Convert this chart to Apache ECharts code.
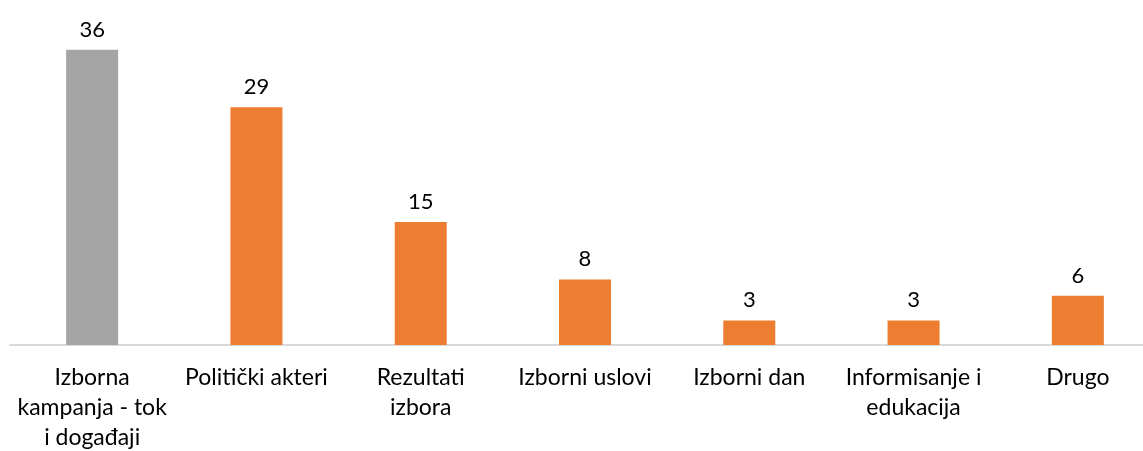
<!DOCTYPE html>
<html>
<head>
<meta charset="utf-8">
<script src="https://cdn.jsdelivr.net/npm/echarts@6/dist/echarts.min.js"></script>
<style>
html,body{margin:0;padding:0;background:#fff;overflow:hidden;}
#c{width:1143px;height:451px;}
</style>
</head>
<body>
<div id="c"></div>
<script>
const categories = ["Izborna\nkampanja - tok\ni događaji", "Politički akteri", "Rezultati\nizbora", "Izborni uslovi", "Izborni dan", "Informisanje i\nedukacija", "Drugo"];
const values = [36, 29, 15, 8, 3, 3, 6];
const barColors = ["#a5a5a5", "#ed7d31", "#ed7d31", "#ed7d31", "#ed7d31", "#ed7d31", "#ed7d31"];

const chart = echarts.init(document.getElementById('c'), null, {renderer: 'canvas', width: 1143, height: 451});
chart.setOption({
  animation: false,
  backgroundColor: '#ffffff',
  grid: {left: 10, width: 1150, top: 17, bottom: 106, containLabel: false, outerBoundsMode: 'none'},
  xAxis: {
    type: 'category',
    data: categories,
    axisLine: {show: true, lineStyle: {color: '#d9d9d9', width: 2}},
    axisTick: {show: false},
    axisLabel: {
      interval: 0,
      color: '#000000',
      fontFamily: 'Lato',
      fontSize: 23,
      lineHeight: 30,
      margin: 18
    }
  },
  yAxis: {
    type: 'value',
    min: 0,
    max: 40,
    show: false,
    splitLine: {show: false}
  },
  series: [{
    type: 'bar',
    barWidth: 52,
    data: values.map((v, i) => ({value: v, itemStyle: {color: barColors[i]}})),
    label: {
      show: true,
      position: 'top',
      distance: 9,
      color: '#000000',
      fontFamily: 'Lato',
      fontSize: 22
    }
  }]
});
</script>
</body>
</html>
